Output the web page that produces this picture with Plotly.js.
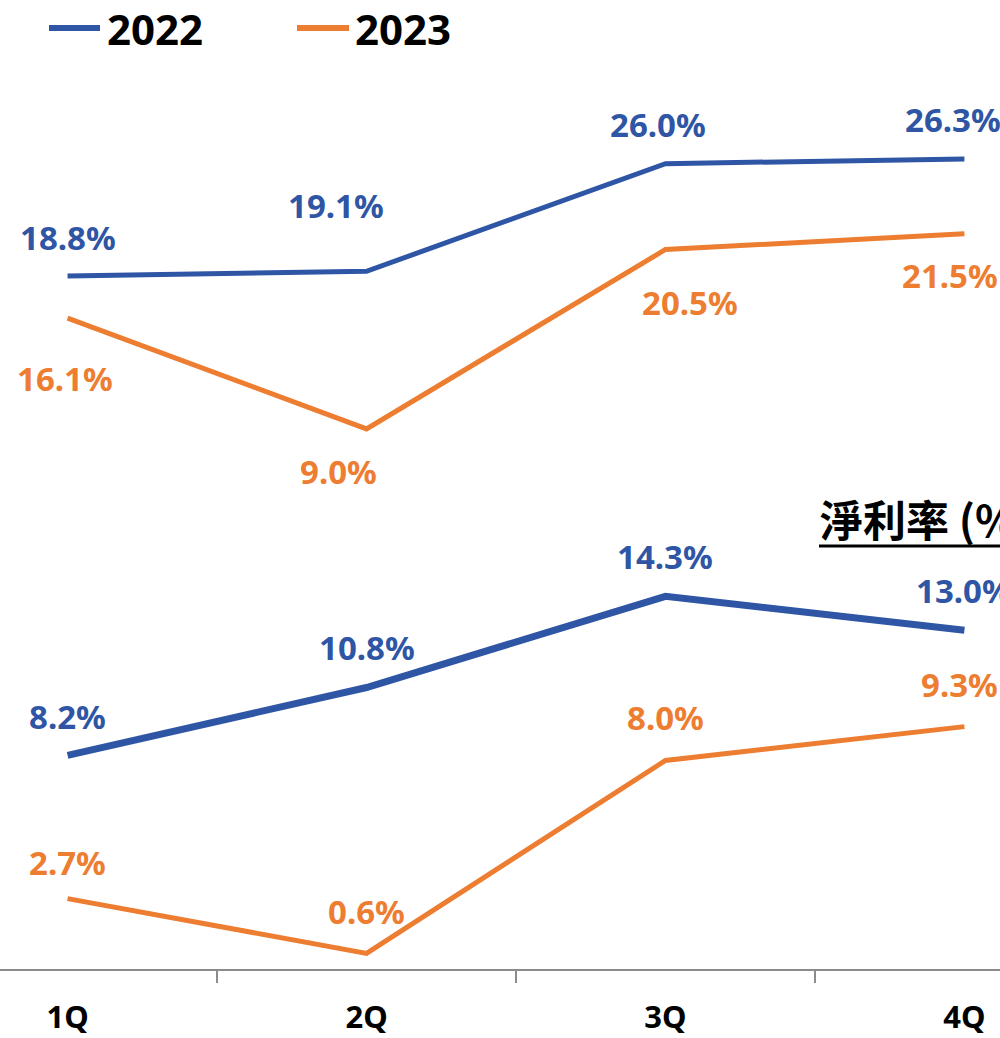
<!DOCTYPE html>
<html>
<head>
<meta charset="utf-8">
<script src="https://cdn.plot.ly/plotly-3.0.1.min.js"></script>
<style>html,body{margin:0;padding:0;background:#fff;}#chart{width:1000px;height:1038px;}</style>
</head>
<body>
<div id="chart"></div>
<script>
// ---- data ----
const quarters = ["1Q", "2Q", "3Q", "4Q"];
const years = ["2022", "2023"];
const gross2022 = [18.8, 19.1, 26.0, 26.3];
const gross2023 = [16.1, 9.0, 20.5, 21.5];
const net2022 = [8.2, 10.8, 14.3, 13.0];
const net2023 = [2.7, 0.6, 8.0, 9.3];
const netTitle = "淨利率 (%)";

// ---- styles ----
const BLUE = "#2F55A5";
const ORANGE = "#ED7D31";
const LABEL_FONT = "Noto Sans, sans-serif";
// per-point label pixel offsets [dx, dy]
const offG22 = [[0,-38],[-31,-66],[-7,-39],[-11,-39]];
const offG23 = [[-3,60],[-28,43],[25,53],[-14,42]];
const offN22 = [[0,-39],[0,-40],[0,-40],[0,-40]];
const offN23 = [[0,-36],[0,-42],[0,-43],[-5,-42]];

const traces = [
  {x: quarters, y: gross2022, yaxis: "y2", mode: "lines", line: {color: BLUE, width: 5}, showlegend: false, hoverinfo: "skip"},
  {x: quarters, y: gross2023, yaxis: "y2", mode: "lines", line: {color: ORANGE, width: 5}, showlegend: false, hoverinfo: "skip"},
  {x: quarters, y: net2022, yaxis: "y", mode: "lines", line: {color: BLUE, width: 7}, showlegend: false, hoverinfo: "skip"},
  {x: quarters, y: net2023, yaxis: "y", mode: "lines", line: {color: ORANGE, width: 5}, showlegend: false, hoverinfo: "skip"}
];

const annotations = [];
function addLabels(vals, yref, color, offs) {
  vals.forEach((v, i) => {
    annotations.push({
      x: quarters[i], y: v, xref: "x", yref: yref,
      text: "<b>" + v.toFixed(1) + "%</b>",
      showarrow: false, xanchor: "center", yanchor: "middle",
      xshift: offs[i][0], yshift: -offs[i][1],
      font: {family: LABEL_FONT, size: 33, color: color}
    });
  });
}
addLabels(gross2022, "y2", BLUE, offG22);
addLabels(gross2023, "y2", ORANGE, offG23);
addLabels(net2022, "y", BLUE, offN22);
addLabels(net2023, "y", ORANGE, offN23);

// legend (manual)
const PH = 969;
const py = p => 1 - p / PH;
annotations.push({xref: "paper", yref: "paper", x: 0.105, y: py(28), xanchor: "left", yanchor: "middle",
  text: "<b>" + years[0] + "</b>", showarrow: false, font: {family: LABEL_FONT, size: 42, color: "#000"}});
annotations.push({xref: "paper", yref: "paper", x: 0.353, y: py(28), xanchor: "left", yanchor: "middle",
  text: "<b>" + years[1] + "</b>", showarrow: false, font: {family: LABEL_FONT, size: 42, color: "#000"}});
// net margin title
annotations.push({xref: "paper", yref: "paper", x: 0.818, y: py(518), xanchor: "left", yanchor: "middle",
  text: "<b>" + netTitle + "</b>", showarrow: false,
  font: {family: "Noto Sans CJK TC, Noto Sans, sans-serif", size: 43, color: "#000"}});

const shapes = [
  {type: "line", xref: "paper", yref: "paper", x0: 0.049, x1: 0.100, y0: py(28), y1: py(28), line: {color: BLUE, width: 6}},
  {type: "line", xref: "paper", yref: "paper", x0: 0.297, x1: 0.349, y0: py(28), y1: py(28), line: {color: ORANGE, width: 6}},
  {type: "line", xref: "paper", yref: "paper", x0: 0.819, x1: 1.0, y0: py(546), y1: py(546), line: {color: "#000", width: 3}}
];

const layout = {
  width: 1000, height: 1038,
  margin: {l: 0, r: 0, t: 0, b: 69, pad: 0},
  paper_bgcolor: "#fff", plot_bgcolor: "#fff",
  showlegend: false,
  xaxis: {
    type: "category", range: [-0.226, 3.119],
    showgrid: false, zeroline: false,
    showline: true, linecolor: "#8C8C8C", linewidth: 2,
    ticks: "outside", tickson: "boundaries", ticklen: 12, tickwidth: 1.5, tickcolor: "#8C8C8C",
    ticklabelstandoff: 20,
    tickfont: {family: LABEL_FONT, size: 31, color: "#000", weight: "bold"}
  },
  yaxis: {range: [0, 37.18], visible: false, showgrid: false, zeroline: false},
  yaxis2: {range: [-25.62, 36.49], overlaying: "y", visible: false, showgrid: false, zeroline: false},
  annotations: annotations,
  shapes: shapes
};

Plotly.newPlot("chart", traces, layout, {staticPlot: true, displayModeBar: false});
</script>
</body>
</html>
